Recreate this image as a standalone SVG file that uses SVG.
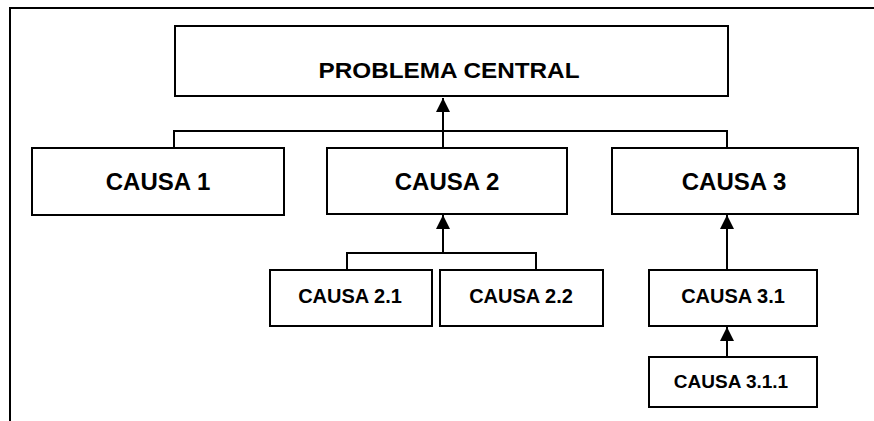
<svg xmlns="http://www.w3.org/2000/svg" width="874" height="421" viewBox="0 0 874 421">
<style>
.box{fill:#fff;stroke:#000;stroke-width:2}
.t{font-family:"Liberation Sans",Arial,sans-serif;font-weight:bold;fill:#000;text-anchor:middle}
.ln{fill:none;stroke:#000;stroke-width:2}
</style>
<defs>
<marker id="ah" markerWidth="14" markerHeight="14" refX="7" refY="0" orient="auto" markerUnits="userSpaceOnUse" viewBox="0 0 14 14">
<path d="M0,0 L14,7 L0,14 Z" fill="#000"/>
</marker>
<marker id="up" markerWidth="14" markerHeight="14" refX="14" refY="7" orient="auto" markerUnits="userSpaceOnUse" viewBox="0 0 14 14">
<path d="M0,0 L14,7 L0,14 Z" fill="#000"/>
</marker>
</defs>
<g id="frame">
<path class="ln" d="M10,421 V8 H874"/>
</g>
<g id="connectors">
<path class="ln" d="M174,148 V131 H727 V148"/>
<path class="ln" d="M443,148 V98" marker-end="url(#up)"/>
<path class="ln" d="M347,270 V253 H536 V270"/>
<path class="ln" d="M443,253 V215" marker-end="url(#up)"/>
<path class="ln" d="M727,270 V215" marker-end="url(#up)"/>
<path class="ln" d="M727,357 V327" marker-end="url(#up)"/>
</g>
<g id="problema-central">
<rect class="box" x="175" y="26" width="553" height="70"/>
<text class="t" x="449" y="78" font-size="22" textLength="261" lengthAdjust="spacingAndGlyphs">PROBLEMA CENTRAL</text>
</g>
<g id="causa-1">
<rect class="box" x="32" y="148" width="252" height="67"/>
<text class="t" x="158" y="190" font-size="24">CAUSA 1</text>
</g>
<g id="causa-2">
<rect class="box" x="327" y="148" width="240" height="66"/>
<text class="t" x="447" y="190" font-size="24">CAUSA 2</text>
</g>
<g id="causa-3">
<rect class="box" x="612" y="148" width="246" height="66"/>
<text class="t" x="734" y="190" font-size="24">CAUSA 3</text>
</g>
<g id="causa-2-1">
<rect class="box" x="270" y="270" width="162" height="56"/>
<text class="t" x="350" y="303" font-size="20">CAUSA 2.1</text>
</g>
<g id="causa-2-2">
<rect class="box" x="440" y="270" width="163" height="56"/>
<text class="t" x="521" y="303" font-size="20">CAUSA 2.2</text>
</g>
<g id="causa-3-1">
<rect class="box" x="649" y="270" width="168" height="56"/>
<text class="t" x="733" y="303" font-size="20">CAUSA 3.1</text>
</g>
<g id="causa-3-1-1">
<rect class="box" x="649" y="357" width="168" height="50"/>
<text class="t" x="731" y="388" font-size="19">CAUSA 3.1.1</text>
</g>
</svg>
